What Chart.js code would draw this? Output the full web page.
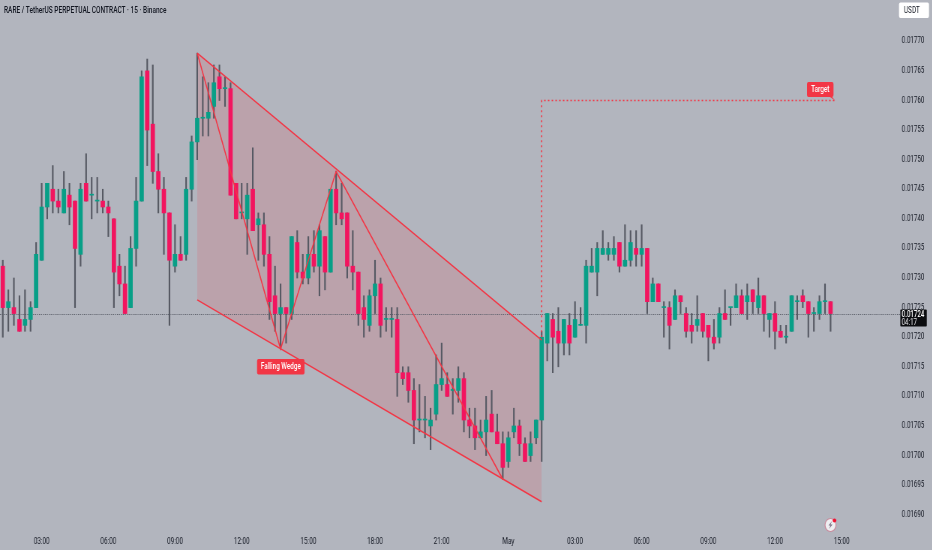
<!DOCTYPE html>
<html>
<head>
<meta charset="utf-8">
<title>RARE / TetherUS</title>
<script src="https://cdn.jsdelivr.net/npm/chart.js@4"></script>
<style>
  html, body { margin: 0; padding: 0; background: #b2b5be; overflow: hidden; width: 932px; height: 550px; }
  /* the reference is a horizontally squeezed screenshot, so the whole stage is drawn wide and scaled down */
  #wrap { position: absolute; left: 0; top: 0; width: 1243px; height: 550px; transform: scaleX(0.75); transform-origin: 0 0; }
  canvas { display: block; }
  #title { position: absolute; left: 5.3px; top: 4.5px; font: 500 8.7px Roboto, sans-serif; color: #131722; white-space: nowrap; }
</style>
</head>
<body>
<div id="wrap">
  <canvas id="chart" width="1243" height="550"></canvas>
  <div id="title">RARE / TetherUS PERPETUAL CONTRACT · 15 · Binance</div>
</div>
<script>
// prices are in units of 0.00001 USDT, one entry per 15 minute candle
const opens = [
  1732,1725,1725,1723,1722,1723,1725,1733,1742,1745,
  1743,1741,1744,1743,1734,1746,1744,1743,1743,1742,
  1740,1732,1729,1725,1735,1743,1765,1756,1748,1745,
  1741,1732,1734,1734,1745,1753,1757,1757,1759,1764,
  1762,1762,1746,1741,1740,1745,1739,1739,1734,1727,
  1724,1725,1724,1736,1731,1730,1734,1732,1737,1731,
  1745,1741,1741,1732,1731,1725,1722,1727,1729,1723,
  1723,1723,1714,1714,1711,1706,1706,1705,1707,1712,
  1712,1711,1711,1713,1706,1705,1703,1704,1707,1704,
  1702,1699,1704,1705,1702,1700,1703,1706,1719,1723,
  1721,1719,1722,1720,1722,1722,1731,1731,1734,1734,
  1734,1736,1732,1733,1735,1734,1735,1726,1729,1725,
  1725,1723,1727,1724,1722,1722,1724,1722,1720,1720,
  1724,1725,1725,1727,1726,1728,1725,1727,1723,1724,
  1721,1720,1721,1726,1727,1726,1724,1724,1726,1726
];
const closes = [
  1725,1726,1724,1721,1723,1725,1734,1742,1746,1743,
  1742,1745,1742,1735,1745,1743,1744,1743,1742,1741,
  1731,1729,1724,1735,1743,1764,1755,1748,1745,1741,
  1733,1734,1733,1745,1753,1757,1757,1758,1763,1762,
  1762,1744,1740,1741,1744,1738,1740,1734,1726,1724,
  1725,1724,1737,1731,1730,1734,1732,1738,1731,1745,
  1741,1740,1732,1731,1724,1723,1727,1729,1722,1723,
  1723,1714,1713,1711,1706,1706,1706,1706,1712,1713,
  1710,1711,1713,1706,1705,1703,1704,1706,1704,1702,
  1698,1703,1705,1702,1699,1702,1706,1720,1724,1720,
  1719,1723,1719,1723,1722,1732,1732,1735,1735,1735,
  1735,1732,1733,1736,1734,1735,1726,1729,1726,1725,
  1722,1727,1726,1721,1721,1723,1721,1720,1719,1724,
  1723,1725,1727,1724,1727,1726,1727,1724,1724,1721,
  1720,1720,1727,1726,1726,1724,1724,1726,1726,1724
];
const highs = [
  1733,1728,1730,1727,1728,1726,1736,1746,1746,1749,
  1745,1748,1746,1743,1746,1751,1747,1747,1745,1743,
  1740,1734,1732,1737,1747,1765,1767,1766,1751,1747,
  1741,1739,1737,1747,1754,1768,1764,1763,1766,1766,
  1764,1763,1746,1746,1746,1752,1741,1741,1737,1732,
  1729,1725,1737,1738,1734,1737,1738,1739,1737,1745,
  1748,1746,1741,1738,1731,1727,1728,1733,1730,1725,
  1725,1725,1715,1715,1713,1712,1710,1708,1717,1719,
  1714,1713,1715,1714,1708,1708,1706,1710,1711,1707,
  1704,1704,1708,1706,1703,1704,1706,1721,1724,1724,
  1725,1723,1724,1726,1725,1733,1735,1736,1738,1736,
  1737,1736,1739,1738,1738,1739,1735,1730,1729,1726,
  1726,1728,1727,1725,1724,1727,1724,1722,1723,1725,
  1728,1725,1729,1728,1729,1728,1730,1727,1724,1726,
  1722,1722,1727,1727,1728,1726,1725,1727,1729,1726
];
const lows = [
  1720,1721,1722,1721,1721,1721,1725,1733,1740,1741,
  1741,1741,1739,1725,1732,1743,1740,1741,1741,1737,
  1725,1727,1724,1725,1732,1743,1749,1746,1741,1734,
  1722,1731,1733,1733,1743,1750,1754,1754,1757,1760,
  1759,1744,1740,1740,1734,1738,1733,1732,1723,1721,
  1718,1719,1723,1730,1729,1729,1731,1727,1728,1731,
  1739,1739,1730,1728,1722,1720,1721,1724,1720,1721,
  1720,1710,1712,1709,1702,1704,1703,1701,1706,1711,
  1710,1707,1709,1704,1703,1701,1703,1700,1704,1702,
  1696,1698,1703,1700,1699,1699,1702,1699,1716,1714,
  1715,1717,1717,1720,1722,1719,1731,1727,1734,1733,
  1733,1731,1732,1732,1732,1732,1724,1726,1726,1720,
  1718,1723,1724,1720,1719,1721,1720,1716,1718,1719,
  1723,1722,1725,1724,1723,1724,1724,1721,1720,1718,
  1720,1719,1721,1723,1725,1720,1721,1723,1724,1721
];

// time axis: candle index of each visible label
const timeTickIndex = [7, 19, 31, 43, 55, 67, 79, 91, 103, 115, 127, 139, 151];
const timeTickLabels = ["03:00", "06:00", "09:00", "12:00", "15:00", "18:00", "21:00", "May", "03:00", "06:00", "09:00", "12:00", "15:00"];
const priceTicks = [1690, 1695, 1700, 1705, 1710, 1715, 1720, 1725, 1730, 1735, 1740, 1745, 1750, 1755, 1760, 1765, 1770];

// drawings on top of the candles, as [candle index, price]
const wedgeUpper = [[35, 1768], [97, 1719.5]];
const wedgeLower = [[35, 1726.3], [97, 1692.2]];
const zigzag = [[35, 1768], [50, 1718], [60, 1748], [90, 1696]];
const targetPath = [[97, 1720], [97, 1760], [149.8, 1760]];
const lastPrice = 1724;

const GREEN = "#089f87";
const RED = "#f2155f";
const DRAW_RED = "#f23645";
const FONT = 'Roboto, sans-serif';
const SX = 1 / 0.75; // canvas pixels per screen pixel, horizontally

const toPoints = list => list.map(p => ({ x: p[0], y: p[1] }));
const candleColors = opens.map((o, i) => (closes[i] >= o ? GREEN : RED));

function roundBox(ctx, x, y, w, h, r, fill) {
    ctx.beginPath();
    ctx.roundRect(x * SX, y, w * SX, h, r);
    ctx.fillStyle = fill;
    ctx.fill();
}

// Current price line, drawn under the candles
const priceLinePlugin = {
    id: "priceLine",
    beforeDatasetsDraw(chart) {
        const ctx = chart.ctx;
        const y = Math.round(chart.scales.y.getPixelForValue(lastPrice)) + 0.5;
        ctx.save();
        ctx.strokeStyle = "#5d606b";
        ctx.lineWidth = 1;
        ctx.setLineDash([1.3, 1.3]);
        ctx.beginPath();
        ctx.moveTo(0, y);
        ctx.lineTo(chart.chartArea.right, y);
        ctx.stroke();
        ctx.restore();
    }
};

// Labels and small widgets
const labelsPlugin = {
    id: "labels",
    afterDraw(chart) {
        const ctx = chart.ctx;
        const xs = chart.scales.x, ys = chart.scales.y;
        ctx.save();
        ctx.textBaseline = "middle";
        ctx.textAlign = "center";

        // Falling Wedge label below the wedge low
        const wx = xs.getPixelForValue(50) / SX, wy = ys.getPixelForValue(1718);
        roundBox(ctx, wx - 23.5, wy + 10, 47.5, 15.5, 2, DRAW_RED);
        ctx.fillStyle = "#ffffff";
        ctx.font = "500 8.5px " + FONT;
        ctx.fillText("Falling Wedge", (wx + 0.3) * SX, wy + 18);

        // Target label with its small tail
        const tx = xs.getPixelForValue(149.8) / SX, ty = ys.getPixelForValue(1760);
        roundBox(ctx, tx - 28, ty - 18.5, 26.5, 15, 2, DRAW_RED);
        ctx.beginPath();
        ctx.moveTo((tx - 4) * SX, ty - 5);
        ctx.lineTo(tx * SX, ty);
        ctx.lineTo((tx - 5) * SX, ty - 3.5);
        ctx.closePath();
        ctx.fill();
        ctx.fillStyle = "#ffffff";
        ctx.font = "500 8.5px " + FONT;
        ctx.fillText("Target", (tx - 14.7) * SX, ty - 10.5);

        // Last price box
        const py = ys.getPixelForValue(lastPrice);
        roundBox(ctx, 900.3, py - 4, 26.5, 17, 1, "#0b0c0f");
        ctx.textAlign = "left";
        ctx.fillStyle = "#ffffff";
        ctx.font = "500 8.2px " + FONT;
        ctx.fillText("0.01724", 901.7 * SX, py + 1.5);
        ctx.font = "8.2px " + FONT;
        ctx.fillStyle = "#e8e8ec";
        ctx.fillText("04:17", 901.7 * SX, py + 9);

        // USDT currency button
        roundBox(ctx, 899, 2.5, 30, 15.5, 2, "#ffffff");
        ctx.fillStyle = "#131722";
        ctx.font = "8.5px " + FONT;
        ctx.fillText("USDT", 904 * SX, 10.5);

        // little flash icon near the time axis
        const ix = 830.5 * SX, iy = 525;
        ctx.beginPath();
        ctx.ellipse(ix, iy, 5.5 * SX, 6.5, 0, 0, Math.PI * 2);
        ctx.fillStyle = "#eeeef1";
        ctx.fill();
        ctx.strokeStyle = "#c88a9c";
        ctx.lineWidth = 1.2;
        ctx.stroke();
        ctx.beginPath();
        ctx.moveTo(ix + 1.5 * SX, iy - 4);
        ctx.lineTo(ix - 2 * SX, iy + 0.5);
        ctx.lineTo(ix, iy + 0.5);
        ctx.lineTo(ix - 1.5 * SX, iy + 4);
        ctx.lineTo(ix + 2 * SX, iy - 0.5);
        ctx.lineTo(ix, iy - 0.5);
        ctx.closePath();
        ctx.fillStyle = "#7a6a80";
        ctx.fill();
        ctx.beginPath();
        ctx.ellipse(834.5 * SX, 520.5, 1.8 * SX, 2, 0, 0, Math.PI * 2);
        ctx.fillStyle = "#f01030";
        ctx.fill();
        ctx.restore();
    }
};

new Chart(document.getElementById("chart"), {
    type: "bar",
    data: {
        datasets: [
            // Upper wedge edge, filled down to the lower edge
            { type: "line", data: toPoints(wedgeUpper), borderColor: DRAW_RED, borderWidth: 1.5, pointRadius: 0, fill: { target: "+1" }, backgroundColor: "rgba(242,54,69,0.15)", order: 0 },
            { type: "line", data: toPoints(wedgeLower), borderColor: DRAW_RED, borderWidth: 1.5, pointRadius: 0, order: 0 },
            { type: "line", data: toPoints(zigzag), borderColor: DRAW_RED, borderWidth: 1.5, pointRadius: 0, tension: 0, order: 0 },
            { type: "line", data: toPoints(targetPath), borderColor: DRAW_RED, borderWidth: 1.5, borderDash: [2, 3], pointRadius: 0, order: 0 },
            // Candle bodies
            { data: opens.map((o, i) => ({ x: i, y: [o, closes[i]] })), backgroundColor: candleColors, barThickness: 3.8 * SX, minBarLength: 1, order: 1 },
            // Wicks
            { data: highs.map((h, i) => ({ x: i, y: [lows[i], h] })), backgroundColor: "#565963", barThickness: 1.1 * SX, order: 2 }
        ]
    },
    options: {
        responsive: false,
        animation: false,
        events: [],
        layout: { padding: 0 },
        plugins: {
            legend: { display: false },
            tooltip: { enabled: false },
            filler: { drawTime: "beforeDatasetsDraw" }
        },
        datasets: { bar: { grouped: false } },
        scales: {
            x: {
                type: "linear",
                offset: false,
                min: -0.5,
                max: 161.5,
                grid: { display: false, drawTicks: false },
                border: { display: false },
                afterFit(scale) { scale.height = 18; scale.paddingLeft = 0; scale.paddingRight = 0; },
                afterBuildTicks(scale) { scale.ticks = timeTickIndex.map(v => ({ value: v })); },
                ticks: {
                    autoSkip: false,
                    maxRotation: 0,
                    padding: 4.5,
                    color: "#131722",
                    font: { family: FONT, size: 8.5 },
                    callback: v => timeTickLabels[timeTickIndex.indexOf(v)]
                }
            },
            y: {
                position: "right",
                min: 1687.08,
                max: 1776.98,
                grid: { display: false, drawTicks: false },
                border: { display: false },
                afterFit(scale) { scale.width = 43; scale.paddingTop = 0; scale.paddingBottom = 0; },
                afterBuildTicks(scale) { scale.ticks = priceTicks.map(v => ({ value: v })); },
                ticks: {
                    padding: 2.3,
                    color: "#131722",
                    font: { family: FONT, size: 8.3 },
                    callback: v => (v / 100000).toFixed(5)
                }
            }
        }
    },
    plugins: [priceLinePlugin, labelsPlugin]
});
</script>
</body>
</html>
